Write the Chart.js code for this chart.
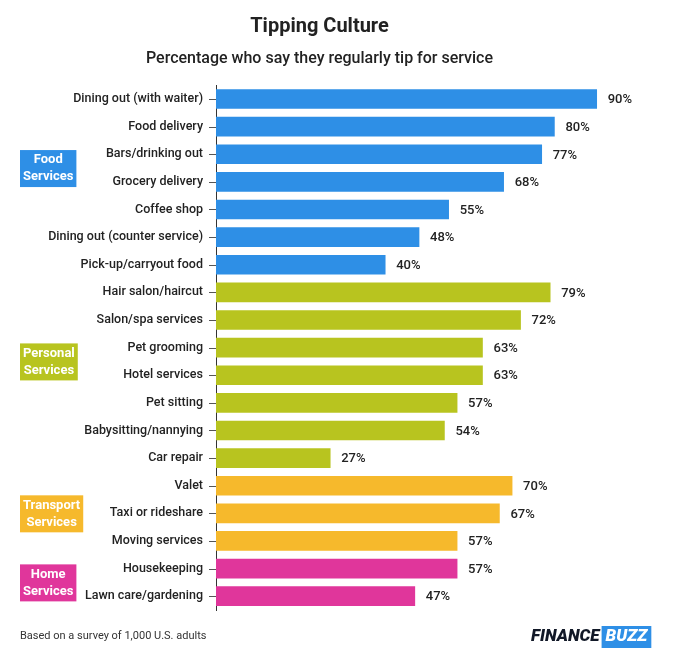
<!DOCTYPE html>
<html><head><meta charset="utf-8">
<script src="https://cdn.jsdelivr.net/npm/chart.js@4"></script>
<style>body{margin:0;background:#fff}#w{width:680px;height:657px}</style>
</head><body><div id="w"><canvas id="c"></canvas></div>
<script>
const categories=["Dining out (with waiter)","Food delivery","Bars/drinking out","Grocery delivery","Coffee shop","Dining out (counter service)","Pick-up/carryout food","Hair salon/haircut","Salon/spa services","Pet grooming","Hotel services","Pet sitting","Babysitting/nannying","Car repair","Valet","Taxi or rideshare","Moving services","Housekeeping","Lawn care/gardening"];
const values=[90,80,77,68,55,48,40,79,72,63,63,57,54,27,70,67,57,57,47];
const groups=["Food","Food","Food","Food","Food","Food","Food","Personal","Personal","Personal","Personal","Personal","Personal","Personal","Transport","Transport","Transport","Home","Home"];
const groupLabels=[["Food","Services",2.5],["Personal","Services",9.5],["Transport","Services",15],["Home","Services",17.5]];
const colors={Food:"#2e8fe6",Personal:"#b8c41f",Transport:"#f6b92c",Home:"#e0369b"};
const F="Roboto, sans-serif";
const deco={id:"deco",afterDraw(ch){
 const c=ch.ctx,x=ch.scales.x,y=ch.scales.y;
 c.save();
 c.font="500 13px "+F;c.fillStyle="#222";c.textBaseline="middle";c.textAlign="left";
 values.forEach((v,i)=>c.fillText(v+"%",x.getPixelForValue(v)+11,y.getPixelForValue(i)+1));
 c.strokeStyle="#555";c.lineWidth=1;
 categories.forEach((_,i)=>{const py=Math.round(y.getPixelForValue(i))+0.5;c.beginPath();c.moveTo(209,py);c.lineTo(216,py);c.stroke();});
 groupLabels.forEach(g=>{
  const cy=y.getPixelForValue(g[2]);
  c.font="bold 13px "+F;
  const w=Math.max(c.measureText(g[0]).width,c.measureText(g[1]).width)+6;
  c.fillStyle=colors[g[0]];c.fillRect(20,cy-18,w,37);
  c.fillStyle="#fff";c.textAlign="center";
  c.fillText(g[0],20+w/2,cy-8);c.fillText(g[1],20+w/2,cy+9);
 });
 c.fillStyle="#333";c.font="11px "+F;c.textAlign="left";
 c.fillText("Based on a survey of 1,000 U.S. adults",20,636);
 c.font="italic 900 17px "+F;c.fillStyle="#111827";
 const t1="FINANCE";const w1=c.measureText(t1).width;
 c.fillText(t1,531,637);
 const w2=c.measureText("BUZZ").width;
 c.fillStyle="#2e8fe6";c.fillRect(531+w1+2,626,w2+8,22);
 c.fillStyle="#fff";c.fillText("BUZZ",531+w1+6,637);
 c.restore();
}};
new Chart(document.getElementById("c"),{type:"bar",
 data:{labels:categories,datasets:[{data:values,backgroundColor:groups.map(g=>colors[g]),barThickness:19}]},
 options:{indexAxis:"y",responsive:true,maintainAspectRatio:false,animation:false,
  layout:{padding:{left:0,right:41,top:0,bottom:47}},
  plugins:{legend:{display:false},tooltip:{enabled:false},
   title:{display:true,text:"Tipping Culture",color:"#222",font:{family:F,size:20,weight:"bold"},padding:{top:15,bottom:10}},
   subtitle:{display:true,text:"Percentage who say they regularly tip for service",color:"#222",font:{family:F,size:16,weight:"500"},padding:{bottom:17}}},
  scales:{x:{min:0,max:100,display:false},
   y:{afterFit(s){s.width=216;},grid:{display:false},
    border:{color:"#333",width:1},
    ticks:{color:"#222",font:{family:F,size:12.5,weight:"500"},padding:5}}}},
 plugins:[deco]});
</script></body></html>
